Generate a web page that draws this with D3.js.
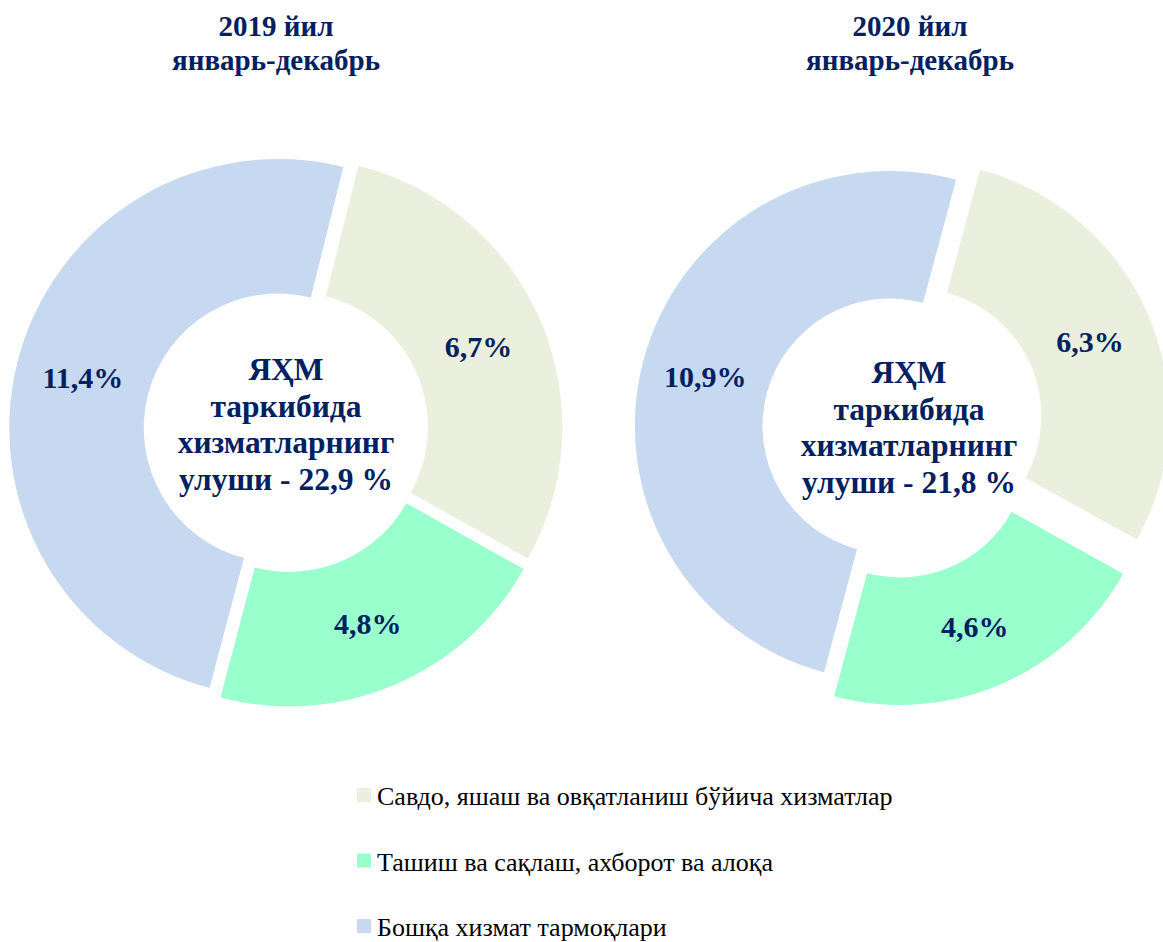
<!DOCTYPE html>
<html>
<head>
<meta charset="utf-8">
<script src="https://cdn.jsdelivr.net/npm/d3@7"></script>
<style>
  body { margin: 0; background: #fff; }
  svg { display: block; }
</style>
</head>
<body>
<div id="chart"></div>
<script>
const categories = [
  'Савдо, яшаш ва овқатланиш бўйича хизматлар',
  'Ташиш ва сақлаш, ахборот ва алоқа',
  'Бошқа хизмат тармоқлари'
];
const years = ['2019 йил', '2020 йил'];
const period = 'январь-декабрь';
const values2019 = [6.7, 4.8, 11.4];
const values2020 = [6.3, 4.6, 10.9];
const totals = [22.9, 21.8];
const centerLines = ['ЯҲМ', 'таркибида', 'хизматларнинг', 'улуши - '];

const colors = ['#EBF0DE', '#99FFCC', '#C6D9F1'];
const navy = '#002060';

const width = 1163, height = 942;

const locale = d3.formatLocale({ decimal: ',', thousands: ' ', grouping: [3], currency: ['', ''] });
const fmt = locale.format('.1f');

// layout of the two donuts
const charts = [
  { values: values2019, total: totals[0], year: years[0],
    cx: 286, cy: 430, outer: 269, start: 14, explode: [8, 8, 8],
    titleX: 276, textX: 286, textY: 380 },
  { values: values2020, total: totals[1], year: years[1],
    cx: 890, cy: 426, outer: 255, start: 15, explode: [26, 26, 0],
    titleX: 910, textX: 909, textY: 383 }
];

const serif = '"Liberation Serif", "Times New Roman", serif';

const svg = d3.select('#chart')
  .append('svg')
    .attr('width', width)
    .attr('height', height);

const pie = d3.pie().sort(null).value(d => d);

charts.forEach((c) => {
  const arc = d3.arc()
    .innerRadius(c.outer * 0.5)
    .outerRadius(c.outer);

  const startRad = c.start * Math.PI / 180;
  const arcs = pie.startAngle(startRad).endAngle(startRad + 2 * Math.PI)(c.values);

  const g = svg.append('g')
    .attr('transform', 'translate(' + c.cx + ',' + c.cy + ')');

  const slice = g.selectAll('.slice')
    .data(arcs)
    .enter()
    .append('g')
      .attr('class', 'slice')
      .attr('transform', function(d, i) {
        const mid = (d.startAngle + d.endAngle) / 2;
        const e = c.explode[i];
        return 'translate(' + (e * Math.sin(mid)) + ',' + (-e * Math.cos(mid)) + ')';
      });

  slice.append('path')
    .attr('d', arc)
    .attr('fill', (d, i) => colors[i]);

  slice.append('text')
    .attr('transform', d => 'translate(' + arc.centroid(d) + ')')
    .attr('dy', '0.35em')
    .attr('text-anchor', 'middle')
    .style('font-family', serif)
    .style('font-weight', 'bold')
    .style('font-size', '30px')
    .style('fill', navy)
    .text(d => fmt(d.data) + '%');

  // title
  const title = svg.append('text')
    .attr('text-anchor', 'middle')
    .style('font-family', serif)
    .style('font-weight', 'bold')
    .style('font-size', '29px')
    .style('fill', navy);
  title.append('tspan').attr('x', c.titleX).attr('y', 36).text(c.year);
  title.append('tspan').attr('x', c.titleX).attr('y', 70).text(period);

  // center text
  const center = svg.append('text')
    .attr('text-anchor', 'middle')
    .style('font-family', serif)
    .style('font-weight', 'bold')
    .style('font-size', '31.5px')
    .style('fill', navy);
  centerLines.forEach((line, i) => {
    center.append('tspan')
      .attr('x', c.textX)
      .attr('y', c.textY + i * 36.5)
      .text(i === centerLines.length - 1 ? line + fmt(c.total) + ' %' : line);
  });
});

// legend
const legend = svg.append('g')
  .attr('transform', 'translate(357,788)');

const item = legend.selectAll('.item')
  .data(categories)
  .enter()
  .append('g')
    .attr('class', 'item')
    .attr('transform', (d, i) => 'translate(0,' + (i * 65.5) + ')');

item.append('rect')
  .attr('width', 14)
  .attr('height', 14)
  .attr('fill', (d, i) => colors[i]);

item.append('text')
  .attr('x', 20)
  .attr('y', 17)
  .style('font-family', serif)
  .style('font-size', '26px')
  .style('fill', '#000')
  .text(d => d);
</script>
</body>
</html>
